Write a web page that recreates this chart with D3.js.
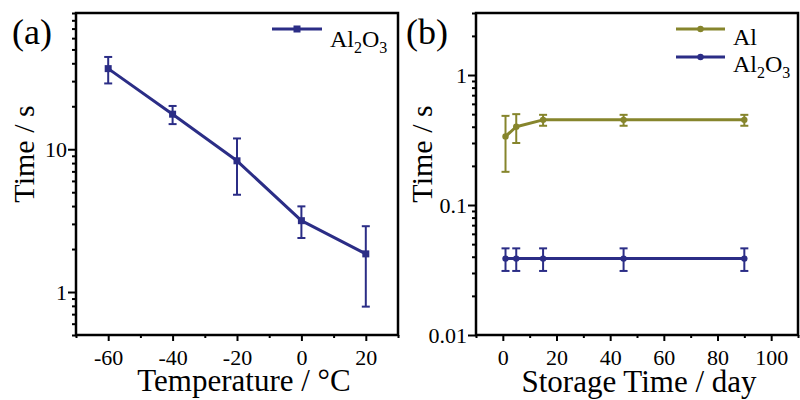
<!DOCTYPE html>
<html>
<head>
<meta charset="utf-8">
<script src="https://cdn.jsdelivr.net/npm/d3@7/dist/d3.min.js"></script>
<style>
  html, body { margin: 0; padding: 0; background: #fff; }
  #chart { display: block; font-family: 'Liberation Serif'; }
</style>
</head>
<body>
<svg id="chart" width="800" height="400"></svg>
<script>
// Panel (a): response time of Al2O3 vs temperature
const tempC      = [-60, -40, -20, 0, 20];
const tempTime   = [36.7, 17.6, 8.3, 3.16, 1.85];
const tempErrHi  = [44.3, 20.1, 11.9, 3.98, 2.89];
const tempErrLo  = [28.9, 15.0, 4.8, 2.39, 0.79];
const tempTicks  = [-60, -40, -20, 0, 20];
const tempMinor  = [-70, -50, -30, -10, 10, 30];
const timeTicksA = [1, 10];

// Panel (b): response time vs storage time
const storageDays = [1, 5, 15, 45, 90];
const alTime      = [0.337, 0.40, 0.452, 0.452, 0.452];
const alErrHi     = [0.485, 0.50, 0.494, 0.494, 0.494];
const alErrLo     = [0.18, 0.30, 0.407, 0.407, 0.407];
const oxTime      = [0.0387, 0.0387, 0.0387, 0.0387, 0.0387];
const oxErrHi     = [0.0464, 0.0464, 0.0464, 0.0464, 0.0464];
const oxErrLo     = [0.0311, 0.0311, 0.0311, 0.0311, 0.0311];
const dayTicks    = [0, 20, 40, 60, 80, 100];
const dayMinor    = [-10, 10, 30, 50, 70, 90, 110];
const timeTicksB  = [0.01, 0.1, 1];

const NAVY = "#2b2d86";
const OLIVE = "#86852c";
const SERIF = "Liberation Serif";

const svg = d3.select("#chart");

function minorLogTicks(lo, hi) {
  const out = [];
  for (let e = -3; e <= 3; e++) {
    for (let m = 1; m <= 9; m++) {
      const v = m * Math.pow(10, e);
      if (v >= lo * 0.999 && v <= hi * 1.001) out.push(v);
    }
  }
  return out;
}

// all labels: serif face, black, size given in px
function label(sel, size) {
  return sel.attr("font-family", SERIF)
    .style("font-family", SERIF)
    .style("font-size", size + "px")
    .attr("fill", "#000");
}

function panel(opts) {
  const { left, right, top, bottom, x, y } = opts;
  const g = svg.append("g");

  // minor ticks
  g.append("g").attr("transform", `translate(0,${bottom})`)
    .call(d3.axisBottom(x).tickValues(opts.xMinor).tickFormat("").tickSize(3).tickSizeOuter(0))
    .call(s => s.select(".domain").remove())
    .call(s => s.selectAll("line").attr("stroke-width", 2));
  g.append("g").attr("transform", `translate(${left},0)`)
    .call(d3.axisLeft(y).tickValues(opts.yMinor).tickFormat("").tickSize(4).tickSizeOuter(0))
    .call(s => s.select(".domain").remove())
    .call(s => s.selectAll("line").attr("stroke-width", 2));

  // major ticks with labels
  g.append("g").attr("transform", `translate(0,${bottom})`)
    .call(d3.axisBottom(x).tickValues(opts.xTicks).tickFormat(d => d < 0 ? "-" + Math.abs(d) : String(d))
      .tickSize(6).tickPadding(8).tickSizeOuter(0))
    .call(s => s.select(".domain").remove())
    .call(s => s.selectAll("line").attr("stroke-width", 2))
    .call(s => label(s.selectAll("text"), 22));
  g.append("g").attr("transform", `translate(${left},0)`)
    .call(d3.axisLeft(y).tickValues(opts.yTicks).tickFormat(opts.yFormat).tickSize(8).tickPadding(1).tickSizeOuter(0))
    .call(s => s.select(".domain").remove())
    .call(s => s.selectAll("line").attr("stroke-width", 2))
    .call(s => label(s.selectAll("text"), 22));

  // frame
  g.append("rect").attr("x", left).attr("y", top)
    .attr("width", right - left).attr("height", bottom - top)
    .attr("fill", "none").attr("stroke", "#000").attr("stroke-width", 2.5);

  // titles
  label(g.append("text"), 31).attr("x", opts.xTitleX).attr("y", opts.xTitleY)
    .attr("text-anchor", "middle").text(opts.xTitle);
  label(g.append("text"), 30).attr("transform", `translate(${opts.yTitleX},${opts.yTitleY}) rotate(-90)`)
    .attr("text-anchor", "middle").text("Time / s");
  label(g.append("text"), 36).attr("x", opts.tagX).attr("y", 44).text(opts.tag);
  return g;
}

function series(g, x, y, xs, ys, hi, lo, color, marker) {
  const pts = xs.map((d, i) => ({ x: d, y: ys[i], hi: hi[i], lo: lo[i] }));
  const eb = g.append("g").attr("stroke", color).attr("stroke-width", 2);
  pts.forEach(p => {
    const cx = x(p.x);
    eb.append("line").attr("x1", cx).attr("x2", cx).attr("y1", y(p.hi)).attr("y2", y(p.lo));
    eb.append("line").attr("x1", cx - 4).attr("x2", cx + 4).attr("y1", y(p.hi)).attr("y2", y(p.hi));
    eb.append("line").attr("x1", cx - 4).attr("x2", cx + 4).attr("y1", y(p.lo)).attr("y2", y(p.lo));
  });
  g.append("path").datum(pts)
    .attr("d", d3.line().x(p => x(p.x)).y(p => y(p.y)))
    .attr("fill", "none").attr("stroke", color).attr("stroke-width", 3)
    .attr("stroke-linejoin", "round");
  pts.forEach(p => drawMarker(g, x(p.x), y(p.y), color, marker));
}

function drawMarker(g, cx, cy, color, marker) {
  if (marker === "square") {
    g.append("rect").attr("x", cx - 3.5).attr("y", cy - 3.5).attr("width", 7).attr("height", 7).attr("fill", color);
  } else {
    g.append("circle").attr("cx", cx).attr("cy", cy).attr("r", 3.2).attr("fill", color);
  }
}

function legendItem(g, x1, x2, ly, ty, color, marker, text) {
  g.append("line").attr("x1", x1).attr("x2", x2).attr("y1", ly).attr("y2", ly)
    .attr("stroke", color).attr("stroke-width", 3);
  drawMarker(g, (x1 + x2) / 2, ly, color, marker);
  const t = label(g.append("text"), 24).attr("x", x2 + 8).attr("y", ty);
  if (text === "Al2O3") {
    t.append("tspan").text("Al");
    t.append("tspan").style("font-size", "16px").attr("dy", 6).text("2");
    t.append("tspan").attr("dy", -6).text("O");
    t.append("tspan").style("font-size", "16px").attr("dy", 6).text("3");
  } else {
    t.text(text);
  }
}

// ---- Panel (a)
const ax = d3.scaleLinear().domain([-70, 30]).range([76, 398]);
const ay = d3.scaleLog().domain([0.5, 90]).range([335, 13]);
const ga = panel({
  left: 76, right: 398, top: 13, bottom: 335, x: ax, y: ay,
  xTicks: tempTicks, xMinor: tempMinor,
  yTicks: timeTicksA, yMinor: minorLogTicks(0.5, 90).filter(v => !timeTicksA.includes(v)),
  yFormat: d => String(d),
  xTitle: "Temperature / \u00B0C", xTitleX: 244, xTitleY: 391,
  yTitleX: 34, yTitleY: 154, tag: "(a)", tagX: 12
});
series(ga, ax, ay, tempC, tempTime, tempErrHi, tempErrLo, NAVY, "square");
legendItem(ga, 272, 322, 29, 46.5, NAVY, "square", "Al2O3");

// ---- Panel (b)
const bx = d3.scaleLinear().domain([-10, 110]).range([476, 798]);
const by = d3.scaleLog().domain([0.01, 3]).range([335, 13]);
const gb = panel({
  left: 476, right: 798, top: 13, bottom: 335, x: bx, y: by,
  xTicks: dayTicks, xMinor: dayMinor,
  yTicks: timeTicksB, yMinor: minorLogTicks(0.01, 3).filter(v => !timeTicksB.some(t => Math.abs(t - v) < 1e-9)),
  yFormat: d => String(d),
  xTitle: "Storage Time / day", xTitleX: 639, xTitleY: 392,
  yTitleX: 432, yTitleY: 154, tag: "(b)", tagX: 406
});
series(gb, bx, by, storageDays, alTime, alErrHi, alErrLo, OLIVE, "circle");
series(gb, bx, by, storageDays, oxTime, oxErrHi, oxErrLo, NAVY, "circle");
legendItem(gb, 676, 725, 29, 44.5, OLIVE, "circle", "Al");
legendItem(gb, 676, 725, 57, 72, NAVY, "circle", "Al2O3");
</script>
</body>
</html>
